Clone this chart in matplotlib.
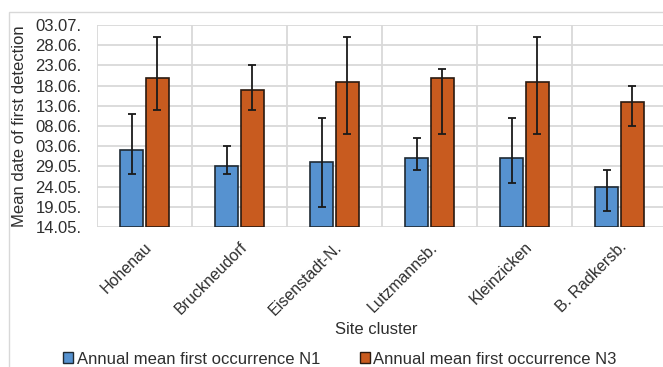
import matplotlib
matplotlib.use("Agg")
import matplotlib.pyplot as plt
from matplotlib.patches import Rectangle, Patch
import numpy as np

plt.rcParams['font.family'] = ['Liberation Sans', 'DejaVu Sans']

# values are days after 14.05.
sites = ["Hohenau", "Bruckneudorf", "Eisenstadt-N.", "Lutzmannsb.", "Kleinzicken", "B. Radkersb."]
n1_mean = [19, 15, 16, 17, 17, 10]
n1_low = [13, 13, 5, 14, 11, 4]
n1_high = [28, 20, 27, 22, 27, 14]
n3_mean = [37, 34, 36, 37, 36, 31]
n3_low = [29, 29, 23, 23, 23, 25]
n3_high = [47, 40, 47, 39, 47, 35]

ytick_days = [0, 5, 10, 15, 20, 25, 30, 35, 40, 45, 50]
ytick_labels = ["14.05.", "19.05.", "24.05.", "29.05.", "03.06.", "08.06.",
                "13.06.", "18.06.", "23.06.", "28.06.", "03.07."]

blue = "#5692d0"
orange = "#c85b1f"
txt = "#2e2e2e"
fs = 12

W, H = 663, 367
fig = plt.figure(figsize=(W / 100, H / 100), dpi=100)
ax = fig.add_axes([97 / W, 1 - 227 / H, 570 / W, 202 / H])

# outer chart border (cut off at right and bottom in the original)
fig.patches.append(Rectangle((9 / W, -0.1), 1.2, 1 - 12 / H + 0.1, transform=fig.transFigure,
                             fill=False, edgecolor="#d8d8d8", lw=1.0))

x = np.arange(len(sites))
bw = 0.235
off = bw / 2 + 0.018

n1_err = [np.array(n1_mean) - np.array(n1_low), np.array(n1_high) - np.array(n1_mean)]
n3_err = [np.array(n3_mean) - np.array(n3_low), np.array(n3_high) - np.array(n3_mean)]

ekw = dict(ecolor="#1a1a1a", elinewidth=1.3, capsize=3, capthick=1.3)
ax.bar(x - off, n1_mean, bw, color=blue, edgecolor="#1f2a33", lw=1.2, yerr=n1_err,
       error_kw=ekw, zorder=3)
ax.bar(x + off, n3_mean, bw, color=orange, edgecolor="#2a1a10", lw=1.2, yerr=n3_err,
       error_kw=ekw, zorder=3)

ax.set_xlim(-0.5, len(sites) - 0.5)
ax.set_ylim(0, 50)
ax.set_yticks(ytick_days)
ax.set_yticklabels(ytick_labels, fontsize=fs, color=txt)
ax.set_xticks(x)
ax.set_xticklabels(sites, rotation=45, ha="right", va="top", rotation_mode="anchor",
                   fontsize=11.5, color=txt)
ax.tick_params(axis="y", length=0, pad=11)
ax.tick_params(axis="x", length=0, pad=9)

ax.set_xticks(np.arange(-0.5, len(sites)), minor=True)
ax.grid(True, which="minor", axis="x", color="#d9d9d9", lw=1.3)
ax.grid(True, which="major", axis="y", color="#d9d9d9", lw=1.3)
ax.tick_params(which="minor", length=0)
ax.set_axisbelow(True)
for s in ax.spines.values():
    s.set_visible(False)

ax.set_ylabel("Mean date of first detection", fontsize=fs, color=txt, labelpad=6)
fig.text(376 / W, 1 - 329 / H, "Site cluster", ha="center", va="center",
         fontsize=fs, color=txt)

handles = [Patch(facecolor=blue, edgecolor="#1f2a33", lw=1.0),
           Patch(facecolor=orange, edgecolor="#2a1a10", lw=1.0)]
fig.legend(handles, ["Annual mean first occurrence N1", "Annual mean first occurrence N3"],
           loc="center", bbox_to_anchor=(340 / W, 1 - 359 / H), ncol=2, frameon=False,
           fontsize=fs, handlelength=0.6, handleheight=0.6, handletextpad=0.2,
           columnspacing=2.4, labelcolor=txt, borderaxespad=0, borderpad=0)

fig.savefig("out.png", dpi=100)
